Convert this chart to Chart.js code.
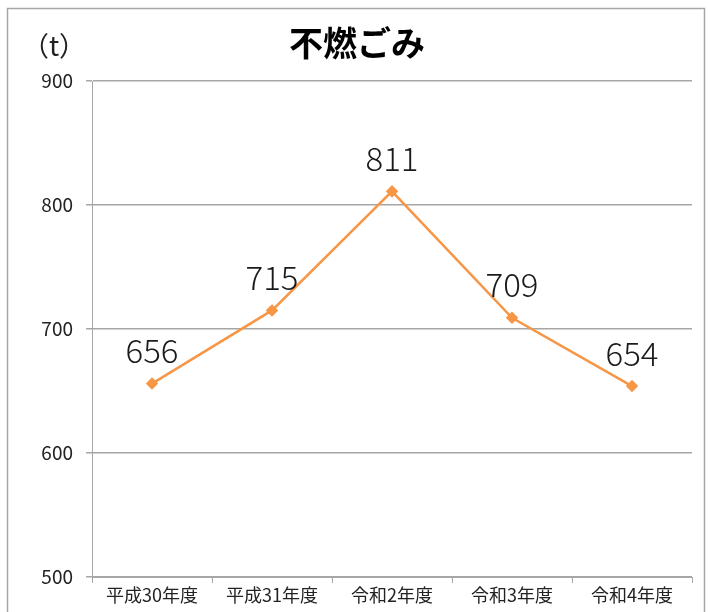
<!DOCTYPE html>
<html>
<head>
<meta charset="utf-8">
<script src="https://cdn.jsdelivr.net/npm/chart.js@4"></script>
<style>
  html, body { margin: 0; padding: 0; background: #fff; }
  #wrap { position: relative; width: 710px; height: 612px; }
</style>
</head>
<body>
<div id="wrap"><canvas id="gomiChart" width="710" height="612"></canvas></div>
<script>
const categories = ['平成30年度', '平成31年度', '令和2年度', '令和3年度', '令和4年度'];
const amounts = [656, 715, 811, 709, 654];
const chartTitle = '不燃ごみ';
const unitLabel = '（t）';

const jpFont = '"Noto Sans CJK JP", "Noto Sans", sans-serif';

// frame, title, unit and value labels
const decorations = {
    id: 'decorations',
    afterDraw(chart) {
        const ctx = chart.ctx;
        ctx.save();
        ctx.strokeStyle = '#a6a6a6';
        ctx.lineWidth = 1.5;
        ctx.strokeRect(7.5, 8.5, 697, 640);

        ctx.fillStyle = '#000';
        ctx.textAlign = 'center';
        ctx.textBaseline = 'middle';
        ctx.font = 'bold 34px ' + jpFont;
        ctx.fillText(chartTitle, 357, 43);

        ctx.font = '27px ' + jpFont;
        ctx.fillStyle = '#222';
        ctx.fillText(unitLabel, 54, 46);

        const meta = chart.getDatasetMeta(0);
        ctx.font = '300 33px ' + jpFont;
        ctx.fillStyle = '#1a1a1a';
        meta.data.forEach((pt, i) => {
            ctx.fillText(String(amounts[i]), pt.x, pt.y - 33);
        });
        ctx.restore();
    }
};

const config = {
    type: 'line',
    data: {
        labels: categories,
        datasets: [{
            data: amounts,
            borderColor: '#f79646',
            backgroundColor: '#f79646',
            borderWidth: 2.5,
            pointStyle: 'rectRot',
            pointRadius: 4.5,
            pointHoverRadius: 4.5,
            tension: 0
        }]
    },
    options: {
        responsive: false,
        animation: false,
        layout: { padding: { top: 81, right: 18, left: 0, bottom: 0 } },
        plugins: {
            legend: { display: false },
            tooltip: { enabled: false }
        },
        scales: {
            x: {
                offset: true,
                grid: {
                    offset: true,
                    drawOnChartArea: false,
                    tickLength: 6,
                    color: '#a6a6a6'
                },
                border: { display: true, color: '#a6a6a6', width: 1 },
                ticks: {
                    color: '#222',
                    font: { family: jpFont, size: 18 },
                    padding: 1,
                    maxRotation: 0
                },
                afterFit(scale) { scale.height = 35; }
            },
            y: {
                min: 500,
                max: 900,
                ticks: {
                    stepSize: 100,
                    color: '#222',
                    font: { family: jpFont, size: 19 },
                    padding: 13
                },
                grid: {
                    color: '#a6a6a6',
                    lineWidth: 1.5,
                    tickLength: 6
                },
                border: { display: true, color: '#a6a6a6', width: 1 },
                afterFit(scale) { scale.width = 92; }
            }
        }
    },
    plugins: [decorations]
};

new Chart(document.getElementById('gomiChart'), config);
</script>
</body>
</html>
